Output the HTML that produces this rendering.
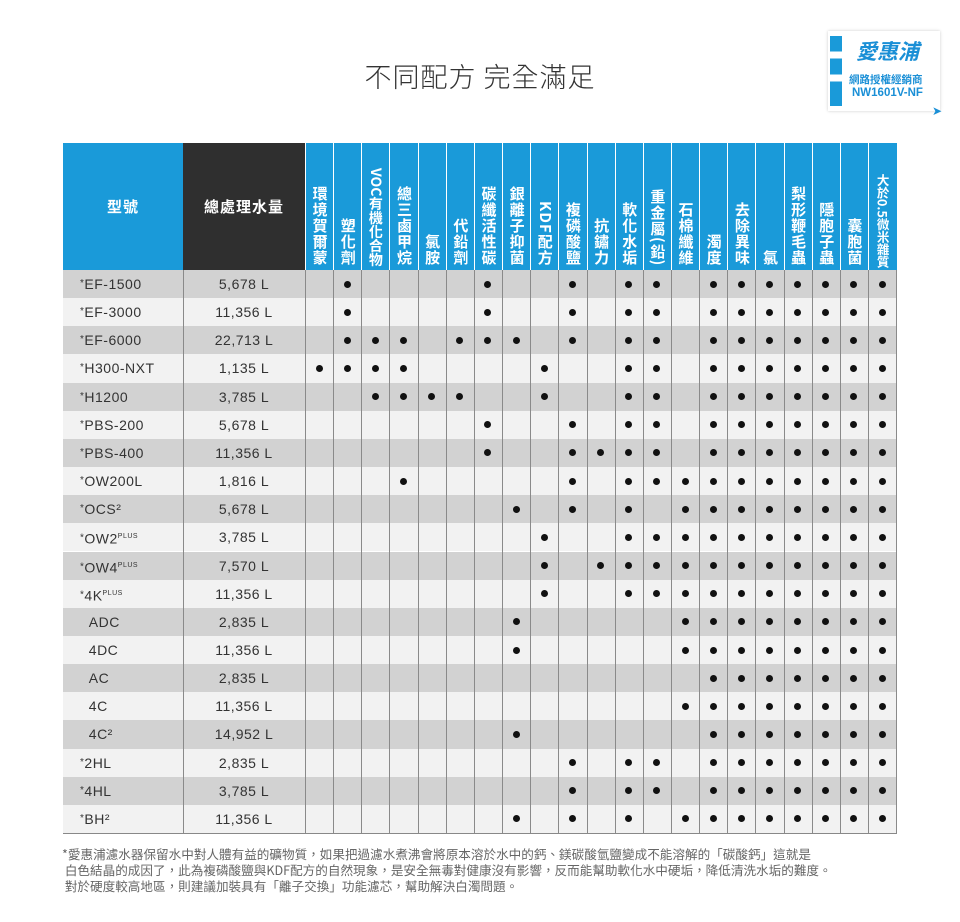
<!DOCTYPE html>
<html><head><meta charset="utf-8">
<style>
*{margin:0;padding:0;box-sizing:border-box}
body{width:960px;height:922px;background:#fff;position:relative;overflow:hidden;font-family:"Liberation Sans","Noto Sans CJK TC",sans-serif;color:#333}
.a{position:absolute}
.title{left:0;width:960px;top:56px;text-align:center;font-size:27px;color:#333;letter-spacing:1px;font-family:"Noto Sans CJK TC","Liberation Sans",sans-serif;font-weight:300}
.hdr{top:143px;height:127px;background:#1a9ad9}
.hv{top:143px;height:127px;width:28.15px;border-left:1px solid #fff;display:flex;justify-content:center;align-items:flex-end;padding-bottom:4px;overflow:hidden}
.hv span{writing-mode:vertical-rl;color:#fff;font-weight:bold;font-size:15px;line-height:16px;letter-spacing:1px;font-family:"Noto Sans CJK TC",sans-serif}
.row{left:63px;width:834px;height:28.15px}
.vl{width:1px;background:#8a8a8a;top:270px;height:563px}
.dot{width:7px;height:7px;border-radius:50%;background:#111}
.m{left:80px;font-size:14px;line-height:28px;color:#333;letter-spacing:.5px}
.t{left:183px;width:122px;text-align:center;font-size:14px;line-height:28px;color:#333;letter-spacing:.5px}
.foot{left:62px;top:846px;font-size:12.6px;line-height:16px;color:#666;font-family:"Noto Sans CJK TC",sans-serif}
</style></head><body>
<div class="a title">不同配方 完全滿足</div>
<div class="a" style="left:828px;top:31px;width:112px;height:80px;background:#fff;box-shadow:0 0 3px #ccc"></div>
<div class="a" style="left:830px;top:36px;width:12px;height:70px;background:linear-gradient(#1a9ad9 0 22%,#fff 22% 32%,#1a9ad9 32% 55%,#fff 55% 65%,#1a9ad9 65%)"></div>
<div class="a" style="left:856px;top:36px;color:#1a8fd6;font-size:21px;font-weight:bold;font-style:italic;font-family:'Noto Sans CJK TC',sans-serif">愛惠浦</div>
<div class="a" style="left:849px;top:72px;color:#1a8fd6;font-size:10.5px;font-weight:bold;font-family:'Noto Sans CJK TC',sans-serif">網路授權經銷商</div>
<div class="a" style="left:852px;top:87px;color:#1a8fd6;font-size:11.5px;font-weight:bold">NW1601V-NF</div>
<div class="a" style="left:932px;top:104px;color:#1a8fd6;font-size:12px">➤</div>

<div class="a hdr" style="left:63px;width:120px"></div>
<div class="a hdr" style="left:183px;width:122px;background:#2f2f2f"></div>
<div class="a hdr" style="left:305px;width:592px"></div>
<div class="a" style="left:63px;width:120px;top:196px;text-align:center;color:#fff;font-weight:bold;font-size:15px;letter-spacing:1px;font-family:'Noto Sans CJK TC',sans-serif">型號</div>
<div class="a" style="left:183px;width:122px;top:196px;text-align:center;color:#fff;font-weight:bold;font-size:15px;letter-spacing:1px;font-family:'Noto Sans CJK TC',sans-serif">總處理水量</div>
<div id="c"></div>
<div class="a foot">*愛惠浦濾水器保留水中對人體有益的礦物質，如果把過濾水煮沸會將原本溶於水中的鈣、鎂碳酸氫鹽變成不能溶解的「碳酸鈣」這就是<br>&nbsp;白色結晶的成因了，此為複磷酸鹽與KDF配方的自然現象，是安全無毒對健康沒有影響，反而能幫助軟化水中硬垢，降低清洗水垢的難度。<br>&nbsp;對於硬度較高地區，則建議加裝具有「離子交換」功能濾芯，幫助解決白濁問題。</div>
<script>
var H=["環境賀爾蒙","塑化劑","VOC有機化合物","總三鹵甲烷","氯胺","代鉛劑","碳纖活性碳","銀離子抑菌","KDF配方","複磷酸鹽","抗鏽力","軟化水垢","重金屬(鉛)","石棉纖維","濁度","去除異味","氯","梨形鞭毛蟲","隱胞子蟲","囊胞菌","大於0.5微米雜質"];
var R=[["EF-1500","5,678 L","1,6,9,11,12"],["EF-3000","11,356 L","1,6,9,11,12"],["EF-6000","22,713 L","1,2,3,5,6,7,9,11,12"],["H300-NXT","1,135 L","0,1,2,3,8,11,12"],["H1200","3,785 L","2,3,4,5,8,11,12"],["PBS-200","5,678 L","6,9,11,12"],["PBS-400","11,356 L","6,9,10,11,12"],["OW200L","1,816 L","3,9,11,12,13"],["OCS²","5,678 L","7,9,11,13"],["OW2<sup style='font-size:7px'>PLUS</sup>","3,785 L","8,11,12,13"],["OW4<sup style='font-size:7px'>PLUS</sup>","7,570 L","8,10,11,12,13"],["4K<sup style='font-size:7px'>PLUS</sup>","11,356 L","8,11,12,13"],["ADC","2,835 L","7,13",1],["4DC","11,356 L","7,13",1],["AC","2,835 L","",1],["4C","11,356 L","13",1],["4C²","14,952 L","7",1],["2HL","2,835 L","9,11,12"],["4HL","3,785 L","9,11,12"],["BH²","11,356 L","7,9,11,13"]];
var s="",W=28.15,X0=305,Y0=270;
H.forEach(function(h,i){var st=i==20?' style="font-size:12.5px;letter-spacing:0"':(i==2?' style="font-size:14px;letter-spacing:0"':'');
s+='<div class="a hv" style="left:'+(X0+i*W)+'px;'+(i==20?'padding-bottom:2px':'')+'"><span'+st+'>'+h+'</span></div>';});
R.forEach(function(r,j){var y=Y0+j*W;
s+='<div class="a row" style="top:'+y+'px;background:'+(j%2?'#f2f2f2':'#d2d2d2')+'"></div>';
s+='<div class="a m" style="top:'+y+'px">'+(r[3]?'&nbsp;&nbsp;':'<span style="font-size:10px;vertical-align:3px">*</span>')+r[0]+'</div>';
s+='<div class="a t" style="top:'+y+'px">'+r[1]+'</div>';
var d=r[2]?r[2].split(',').map(Number):[];for(var k=14;k<21;k++)d.push(k);
d.forEach(function(c){s+='<div class="a dot" style="left:'+(X0+c*W+W/2-3.5)+'px;top:'+(y+W/2-3.5)+'px"></div>';});
});
s+='<div class="a vl" style="left:183px"></div>';
for(var i=0;i<=21;i++)s+='<div class="a vl" style="left:'+(X0+i*W)+'px"></div>';
s+='<div class="a" style="left:63px;top:833px;width:834px;height:1px;background:#888"></div>';
document.getElementById('c').innerHTML=s;
</script>
</body></html>
